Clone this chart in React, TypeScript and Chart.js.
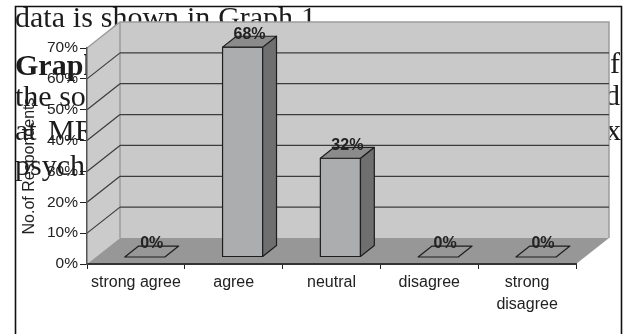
import { useEffect, useRef } from 'react';
import { Chart, registerables } from 'chart.js';

Chart.register(...registerables);

// Survey answers and the share of respondents for each
const categories: (string | string[])[] = ['strong agree', 'agree', 'neutral', 'disagree', ['strong', 'disagree']];
const shares: number[] = [0, 68, 32, 0, 0];
const yMin = 0;
const yMax = 70;
const yStep = 10;
const yTitle = 'No.of Respondents';

// Running text of the page that the figure sits in
const headLine: string[] = ['data', 'is', 'shown', 'in', 'Graph', '1'];
type Frag = { text: string; x: number; y: number; bold?: boolean; align?: CanvasTextAlign };
const pageFragments: Frag[] = [
  { text: 'Graph', x: 15, y: 75, bold: true },
  { text: 'of', x: 620, y: 73, align: 'right' },
  { text: 'the so', x: 15, y: 106 },
  { text: 'd', x: 620, y: 105, align: 'right' },
  { text: 'at', x: 15, y: 140 },
  { text: 'MR', x: 48, y: 140 },
  { text: 'x', x: 621, y: 140, align: 'right' },
  { text: 'psycho', x: 15, y: 175 },
];

// Oblique depth of the 3-D box and the slab that the bars occupy inside it
const DEPTH = { dx: 33, dy: -26 };
const BAR_FRONT = 0.27;
const BAR_BACK = 0.69;

const SANS = '"Liberation Sans", Arial, sans-serif';
const SERIF = '"Liberation Serif", "Times New Roman", serif';

const poly = (ctx: CanvasRenderingContext2D, pts: number[][], fill?: string, stroke?: string, lw = 1) => {
  ctx.beginPath();
  pts.forEach(([px, py], i) => (i ? ctx.lineTo(px, py) : ctx.moveTo(px, py)));
  ctx.closePath();
  if (fill) {
    ctx.fillStyle = fill;
    ctx.fill();
  }
  if (stroke) {
    ctx.strokeStyle = stroke;
    ctx.lineWidth = lw;
    ctx.stroke();
  }
};

const scene3d = {
  id: 'scene3d',
  beforeDraw(chart: any) {
    const ctx: CanvasRenderingContext2D = chart.ctx;
    const W = chart.width;
    const H = chart.height;
    ctx.save();
    ctx.fillStyle = '#ffffff';
    ctx.fillRect(0, 0, W, H);

    // page text behind the figure
    ctx.beginPath();
    ctx.rect(0, 0, 621, H);
    ctx.clip();
    ctx.fillStyle = '#1c1c1c';
    ctx.textBaseline = 'alphabetic';
    ctx.font = `30px ${SERIF}`;
    const widths = headLine.map((w) => ctx.measureText(w).width);
    const total = widths.reduce((a, b) => a + b, 0);
    const gap = (316 - 15 - total) / (headLine.length - 1);
    let hx = 15;
    headLine.forEach((w, i) => {
      ctx.textAlign = 'left';
      ctx.fillText(w, hx, 27);
      hx += widths[i] + gap;
    });
    pageFragments.forEach((f) => {
      ctx.font = `${f.bold ? 'bold ' : ''}30px ${SERIF}`;
      ctx.textAlign = f.align || 'left';
      ctx.fillText(f.text, f.x, f.y);
    });
    ctx.restore();

    // figure frame
    ctx.save();
    ctx.strokeStyle = '#111';
    ctx.lineWidth = 1.6;
    ctx.beginPath();
    ctx.moveTo(15.5, H);
    ctx.lineTo(15.5, 6.5);
    ctx.lineTo(621.5, 6.5);
    ctx.lineTo(621.5, H);
    ctx.stroke();
    ctx.restore();

    // walls and floor of the 3-D box
    const xS = chart.scales.x;
    const yS = chart.scales.y;
    const L = xS.left;
    const R = xS.right;
    const y0 = yS.getPixelForValue(yMin);
    const yT = yS.getPixelForValue(yMax);
    const { dx, dy } = DEPTH;
    ctx.save();
    poly(ctx, [[L + dx, yT + dy], [R + dx, yT + dy], [R + dx, y0 + dy], [L + dx, y0 + dy]], '#c9c9ca');
    poly(ctx, [[L, y0], [L, yT], [L + dx, yT + dy], [L + dx, y0 + dy]], '#cbcbcb');
    poly(ctx, [[L, y0], [R, y0], [R + dx, y0 + dy], [L + dx, y0 + dy]], '#979797');

    // wall borders
    ctx.strokeStyle = '#9c9c9c';
    ctx.lineWidth = 1.5;
    ctx.beginPath();
    ctx.moveTo(L, yT);
    ctx.lineTo(L + dx, yT + dy);
    ctx.lineTo(R + dx, yT + dy);
    ctx.lineTo(R + dx, y0 + dy);
    ctx.moveTo(L + dx, yT + dy);
    ctx.lineTo(L + dx, y0 + dy);
    ctx.stroke();

    // gridlines across the back wall and the side wall
    ctx.strokeStyle = '#3c3c3c';
    ctx.lineWidth = 1.2;
    yS.ticks.forEach((t: any) => {
      if (t.value <= yMin || t.value >= yMax) return;
      const py = yS.getPixelForValue(t.value);
      ctx.beginPath();
      ctx.moveTo(L + dx, py + dy);
      ctx.lineTo(R + dx, py + dy);
      ctx.moveTo(L, py);
      ctx.lineTo(L + dx, py + dy);
      ctx.stroke();
    });
    ctx.restore();
  },
  afterDatasetsDraw(chart: any) {
    const ctx: CanvasRenderingContext2D = chart.ctx;
    const meta = chart.getDatasetMeta(0);
    const values = chart.data.datasets[0].data as number[];
    const fx = DEPTH.dx * BAR_FRONT;
    const fy = DEPTH.dy * BAR_FRONT;
    const bx = DEPTH.dx * BAR_BACK;
    const by = DEPTH.dy * BAR_BACK;
    ctx.save();
    ctx.lineJoin = 'round';
    meta.data.forEach((el: any, i: number) => {
      const { x, y, base, width } = el.getProps(['x', 'y', 'base', 'width'], true);
      const l = x - width / 2;
      const r = x + width / 2;
      const v = values[i];
      if (v > 0) {
        poly(ctx, [[l + fx, y + fy], [r + fx, y + fy], [r + fx, base + fy], [l + fx, base + fy]], '#abadaf', '#1e1e1e', 1.2);
        poly(ctx, [[r + fx, y + fy], [r + bx, y + by], [r + bx, base + by], [r + fx, base + fy]], '#6f6f6f', '#1e1e1e', 1.2);
      }
      poly(
        ctx,
        [[l + fx, y + fy], [l + bx, y + by], [r + bx, y + by], [r + fx, y + fy]],
        v > 0 ? '#8b8b8b' : undefined,
        '#1e1e1e',
        1.2
      );
      ctx.fillStyle = '#222';
      ctx.font = `bold 16px ${SANS}`;
      ctx.textAlign = 'center';
      ctx.textBaseline = 'middle';
      ctx.fillText(`${v}%`, x + (fx + bx) / 2, y + by - 2);
    });
    ctx.restore();
  },
  afterDraw(chart: any) {
    const ctx: CanvasRenderingContext2D = chart.ctx;
    ctx.save();
    ctx.translate(30, 166);
    ctx.rotate(-Math.PI / 2);
    ctx.fillStyle = '#222';
    ctx.font = `16px ${SANS}`;
    ctx.textAlign = 'center';
    ctx.textBaseline = 'middle';
    ctx.fillText(yTitle, 0, 0);
    ctx.restore();
  },
};

export default function App() {
  const canvasRef = useRef<HTMLCanvasElement | null>(null);

  useEffect(() => {
    document.body.style.margin = '0';
    const canvas = canvasRef.current;
    if (!canvas) return;
    const chart = new Chart(canvas, {
      type: 'bar',
      data: {
        labels: categories,
        datasets: [
          {
            data: shares,
            backgroundColor: 'rgba(0,0,0,0)',
            borderWidth: 0,
            barPercentage: 0.41,
            categoryPercentage: 1,
          },
        ],
      },
      options: {
        animation: false,
        responsive: false,
        devicePixelRatio: 1,
        layout: { padding: { left: 0, top: 48, right: 55, bottom: 0 } },
        plugins: { legend: { display: false }, tooltip: { enabled: false } },
        scales: {
          x: {
            grid: { drawOnChartArea: false, tickLength: 5, color: '#222', offset: true },
            border: { color: '#333', width: 2 },
            ticks: {
              color: '#222',
              font: { family: SANS, size: 16, lineHeight: 1.375 },
              padding: 3,
              maxRotation: 0,
              autoSkip: false,
            },
            afterFit: (s: any) => {
              s.height = 70;
            },
          },
          y: {
            min: yMin,
            max: yMax,
            grid: { drawOnChartArea: false, tickLength: 7, color: '#222' },
            border: { color: '#555', width: 1.5 },
            ticks: {
              stepSize: yStep,
              color: '#222',
              font: { family: SANS, size: 15.5 },
              padding: 2,
              callback: (v: any) => `${v}%`,
            },
            afterFit: (s: any) => {
              s.width = 87;
            },
          },
        },
      },
      plugins: [scene3d],
    });
    return () => chart.destroy();
  }, []);

  return (
    <div style={{ width: 631, height: 334 }}>
      <canvas ref={canvasRef} width={631} height={334} />
    </div>
  );
}
